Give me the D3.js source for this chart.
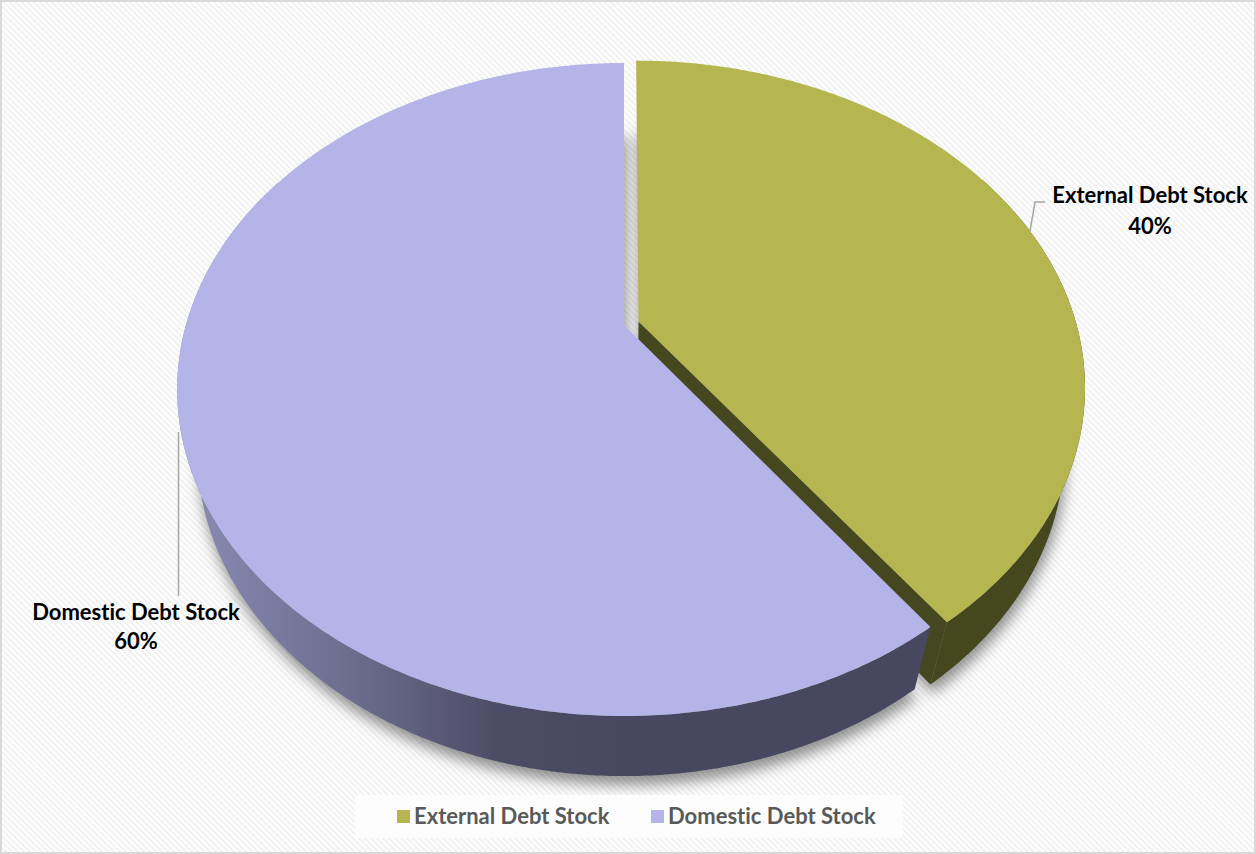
<!DOCTYPE html>
<html><head><meta charset="utf-8">
<script src="https://cdn.jsdelivr.net/npm/d3@7"></script>
<style>html,body{margin:0;padding:0;background:#fff;overflow:hidden} text{font-variant-ligatures:none;font-feature-settings:"liga" 0,"clig" 0}</style>
</head><body>
<svg id="chart" width="1256" height="854"></svg>
<script>
// ---- data ----
const categories = ["External Debt Stock", "Domestic Debt Stock"];
const values = [40, 60];
const percentLabels = ["40%", "60%"];
const topColors = ["#b5b650", "#b4b4e8"];
const sideColors = ["#45471f", "url(#domSide)"];
const explode = [0.035, 0];

// ---- layout ----
const W = 1256, Hh = 854;
const svg = d3.select("#chart");
const defs = svg.append("defs");

const pat = defs.append("pattern").attr("id", "stripes")
  .attr("patternUnits", "userSpaceOnUse").attr("width", 4.25).attr("height", 10)
  .attr("patternTransform", "rotate(-45)");
pat.append("rect").attr("width", 4.25).attr("height", 10).attr("fill", "#ffffff");
pat.append("rect").attr("width", 2.1).attr("height", 10).attr("fill", "#f1f1f1");

const g1 = defs.append("linearGradient").attr("id", "domSide")
  .attr("gradientUnits", "userSpaceOnUse").attr("x1", 176).attr("x2", 640).attr("y1", 0).attr("y2", 0);
[[0, "#8c8cb6"], [0.35, "#6f6f92"], [0.7, "#4c4c66"], [1, "#474760"]].forEach(s =>
  g1.append("stop").attr("offset", s[0]).attr("stop-color", s[1]));

const blur = defs.append("filter").attr("id", "shadow").attr("x", "-20%").attr("y", "-20%").attr("width", "140%").attr("height", "140%");
blur.append("feGaussianBlur").attr("stdDeviation", 7);

svg.append("rect").attr("x", 0).attr("y", 0).attr("width", W).attr("height", Hh).attr("fill", "url(#stripes)");
svg.append("rect").attr("x", 1).attr("y", 1).attr("width", W - 2).attr("height", Hh - 2)
  .attr("fill", "none").attr("stroke", "#d9d9d9").attr("stroke-width", 2);

// ---- 3D perspective projection ----
const alpha = 45.75 * Math.PI / 180, sa = Math.sin(alpha), ca = Math.cos(alpha);
const D = 3.533, F = 1547.6, CX = 624, CY = 325, TH = 0.225;
function proj(X, Y, Z) {
  const v = Y * ca + Z * sa, w = Z * ca - Y * sa;
  const s = F / (D + w);
  return [CX + X * s, CY - v * s];
}
const pie = d3.pie().sort(null).startAngle(0).endAngle(2 * Math.PI)(values);
const line = d3.line().curve(d3.curveLinear);
const step = Math.PI / 360;
const deg = Math.PI / 180;
const wallMin = 60 * deg, wallMax = 300 * deg;

function rim(d, i, Y, a0, a1) {
  const mid = (d.startAngle + d.endAngle) / 2;
  const ox = explode[i] * Math.sin(mid), oz = explode[i] * Math.cos(mid);
  const pts = [];
  const n = Math.max(2, Math.ceil(Math.abs(a1 - a0) / step));
  for (let k = 0; k <= n; k++) {
    const a = a0 + (a1 - a0) * k / n;
    pts.push(proj(ox + Math.sin(a), Y, oz + Math.cos(a)));
  }
  return pts;
}
function apex(d, i, Y) {
  const mid = (d.startAngle + d.endAngle) / 2;
  return proj(explode[i] * Math.sin(mid), Y, explode[i] * Math.cos(mid));
}

// shadow of the bottom faces
const shadowG = svg.append("g").attr("filter", "url(#shadow)").attr("transform", "translate(2,9)");
pie.forEach((d, i) => {
  shadowG.append("path")
    .attr("d", line([apex(d, i, -TH), ...rim(d, i, -TH, d.startAngle, d.endAngle)]) + "Z")
    .attr("fill", "#000").attr("opacity", 0.42);
});

// sides: external first, then domestic
const sideG = svg.append("g");
{
  const d = pie[0], i = 0;
  const aT = apex(d, i, 0), aB = apex(d, i, -TH);
  const rT = rim(d, i, 0, d.endAngle, d.endAngle)[0], rB = rim(d, i, -TH, d.endAngle, d.endAngle)[0];
  sideG.append("path").attr("d", line([aT, rT, rB, aB]) + "Z").attr("fill", sideColors[0]);
}
pie.forEach((d, i) => {
  const a0 = Math.max(d.startAngle, wallMin), a1 = Math.min(d.endAngle, wallMax);
  if (a1 <= a0) return;
  const top = rim(d, i, 0, a0, a1);
  const bot = rim(d, i, -TH, a1, a0);
  sideG.append("path").attr("d", line([...top, ...bot]) + "Z").attr("fill", sideColors[i]);
});

// tops
const topG = svg.append("g");
pie.forEach((d, i) => {
  topG.append("path")
    .attr("d", line([apex(d, i, 0), ...rim(d, i, 0, d.startAngle, d.endAngle)]) + "Z")
    .attr("fill", topColors[i]);
});

// ---- data labels ----
const font = "Lato, 'Open Sans', sans-serif";
const labelPos = [{x: 1150, y1: 203, y2: 234}, {x: 136, y1: 620, y2: 649}];
const leaders = [[[1030, 231], [1035, 202], [1045, 202]], [[178.5, 432], [178.5, 596]]];
leaders.forEach(p => svg.append("path").attr("d", line(p)).attr("fill", "none")
  .attr("stroke", "#a6a6a6").attr("stroke-width", 1.5));
categories.forEach((c, i) => {
  const t = svg.append("text").attr("text-anchor", "middle").attr("font-family", font)
    .attr("font-weight", 700).attr("font-size", 22).attr("fill", "#000");
  t.append("tspan").attr("x", labelPos[i].x).attr("y", labelPos[i].y1).text(c);
  t.append("tspan").attr("x", labelPos[i].x).attr("y", labelPos[i].y2).text(percentLabels[i]);
});

// ---- legend ----
svg.append("rect").attr("x", 355).attr("y", 795).attr("width", 548).attr("height", 43).attr("fill", "#fdfdfd");
const legX = [397, 651];
categories.forEach((c, i) => {
  svg.append("rect").attr("x", legX[i]).attr("y", 810).attr("width", 13).attr("height", 13).attr("fill", topColors[i]);
  svg.append("text").attr("x", legX[i] + 17).attr("y", 824).attr("font-family", font)
    .attr("font-weight", 700).attr("font-size", 22).attr("fill", "#595959").text(c);
});
</script>
</body></html>
